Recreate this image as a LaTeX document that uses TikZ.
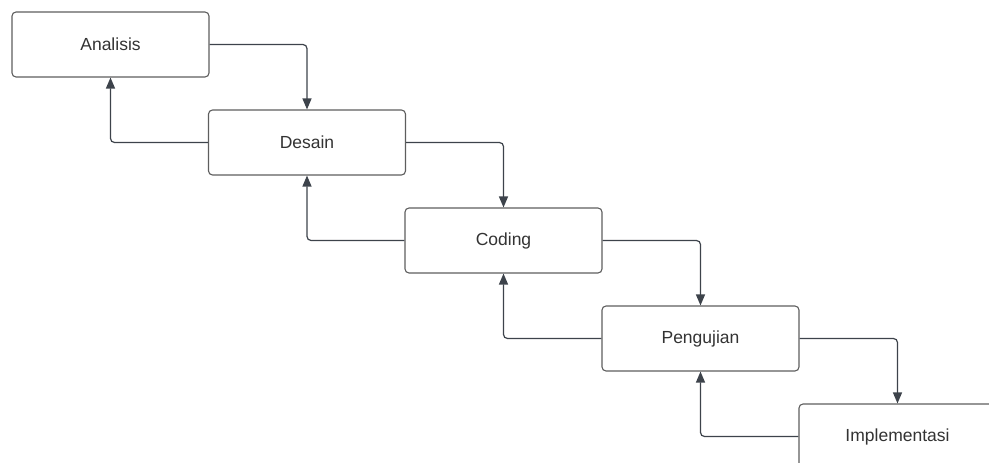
\documentclass[tikz,border=0pt]{standalone}
\usepackage{fontspec}
\setmainfont{Liberation Sans}
\usetikzlibrary{arrows.meta}
\definecolor{linegray}{HTML}{3D434B}
\definecolor{boxgray}{HTML}{5E5E5E}
\definecolor{textgray}{HTML}{333333}
\begin{document}
\begin{tikzpicture}[x=1pt,y=-1pt,
    phase/.style={draw=boxgray, line width=1.1pt, rounded corners=4pt, fill=white,
      minimum width=197pt, minimum height=65pt, inner sep=0pt,
      text=textgray, font=\fontsize{17.5}{21}\selectfont},
    flow/.style={draw=linegray, line width=1.2pt, rounded corners=4pt,
      -{Triangle[length=11pt,width=9pt]}}]
        \useasboundingbox (0,0) rectangle (989,463);
        \clip (0,0) rectangle (989,463);

        \node [phase] (analisis) at (110.5,44.5) {Analisis};
        \node [phase] (desain) at (307,142.5) {Desain};
        \node [phase] (coding) at (503.5,240.5) {Coding};
        \node [phase] (pengujian) at (700.5,338.5) {Pengujian};
        \node [phase] (implementasi) at (897.5,436.5) {Implementasi};

        \draw [flow] (analisis.east) -| (desain.north);
        \draw [flow] (desain.east) -| (coding.north);
        \draw [flow] (coding.east) -| (pengujian.north);
        \draw [flow] (pengujian.east) -| (implementasi.north);

        \draw [flow] (desain.west) -| (analisis.south);
        \draw [flow] (coding.west) -| (desain.south);
        \draw [flow] (pengujian.west) -| (coding.south);
        \draw [flow] (implementasi.west) -| (pengujian.south);
      \end{tikzpicture}
\end{document}
